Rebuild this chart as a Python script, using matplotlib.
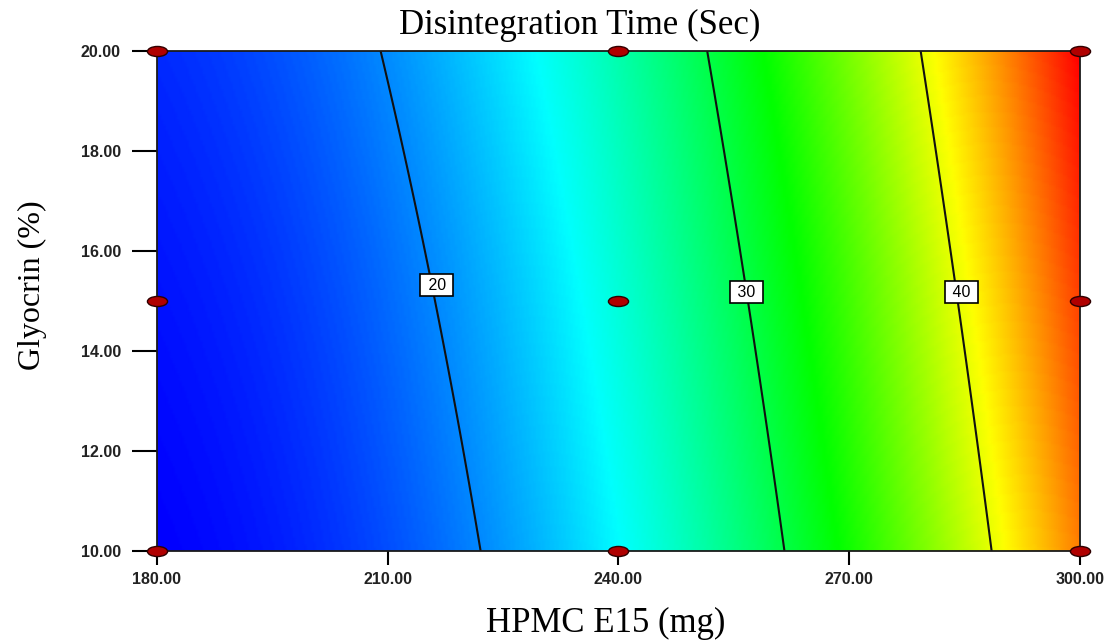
import numpy as np
import matplotlib
matplotlib.use("Agg")
import matplotlib.pyplot as plt
from matplotlib.colors import LinearSegmentedColormap
from matplotlib.path import Path
from matplotlib.transforms import Affine2D

# ---------------------- DATA ----------------------
# factor ranges (actual units)
hpmc_range = [180.0, 300.0]      # HPMC E15 (mg)
glycerin_range = [10.0, 20.0]    # Glycerin (%)

# fitted response model in coded units, read off the contour positions
# DT = b0 + bA*A + bB*B + bAB*A*B + bA2*A^2 + bB2*B^2
coef_names = ["b0", "bA", "bB", "bAB", "bA2", "bB2"]
coef_values = [25.15, 15.5, 1.4, 0.7, 6.4, 0.1]

contour_levels = [20, 30, 40]
label_pos_x = [216.4, 256.6, 284.6]
label_pos_y = [15.32, 15.18, 15.18]

# design points (face centred, 3 levels per factor)
design_x = [180, 180, 180, 240, 240, 240, 300, 300, 300]
design_y = [10, 15, 20, 10, 15, 20, 10, 15, 20]

xticks = [180, 210, 240, 270, 300]
yticks = [10, 12, 14, 16, 18, 20]
# ----------------------------------------------------

coef = dict(zip(coef_names, coef_values))

xs = np.linspace(hpmc_range[0], hpmc_range[1], 400)
ys = np.linspace(glycerin_range[0], glycerin_range[1], 200)
X, Y = np.meshgrid(xs, ys)
A = (X - 240.0) / 60.0
B = (Y - 15.0) / 5.0
Z = (coef["b0"] + coef["bA"] * A + coef["bB"] * B + coef["bAB"] * A * B
     + coef["bA2"] * A ** 2 + coef["bB2"] * B ** 2)

cmap = LinearSegmentedColormap.from_list(
    "dx", ["#0000ff", "#00ffff", "#00ff00", "#ffff00", "#ff0000"])

fig = plt.figure(figsize=(11.11, 6.4), dpi=100)
ax = fig.add_axes([0.1413, 0.139, 0.9721 - 0.1413, 0.9203 - 0.139])

ax.pcolormesh(X, Y, Z, cmap=cmap, shading="gouraud",
              vmin=Z.min(), vmax=Z.max())
ax.contour(X, Y, Z, levels=contour_levels, colors="#111111", linewidths=1.5)

# contour labels in white boxes, sitting on the lines
for lvl, lx, ly in zip(contour_levels, label_pos_x, label_pos_y):
    ax.text(lx, ly, f" {lvl} ", family="Liberation Sans", fontsize=11.5,
            ha="center", va="center", zorder=4,
            bbox=dict(boxstyle="square,pad=0.2", fc="white", ec="black", lw=1.2))

# elliptical design point marker
ell = Path.unit_circle().transformed(Affine2D().scale(1.0, 0.5))
ax.plot(design_x, design_y, linestyle="none", marker=ell, markersize=14.5,
        markerfacecolor="#b00000", markeredgecolor="#300000", markeredgewidth=1.0,
        clip_on=False, zorder=5)

ax.set_xlim(hpmc_range)
ax.set_ylim(glycerin_range)
ax.set_xticks(xticks)
ax.set_yticks(yticks)
ax.set_xticklabels([f"{v:.2f}" for v in xticks])
ax.set_yticklabels([f"{v:.2f}" for v in yticks])

for lab in ax.get_xticklabels() + ax.get_yticklabels():
    lab.set_family("Liberation Sans")
    lab.set_weight("bold")
    lab.set_size(11.5)
    lab.set_color("#222222")

ax.tick_params(axis="x", direction="out", length=10, width=1.5, pad=5)
ax.tick_params(axis="y", direction="out", length=18, width=1.5, pad=8)
for sp in ax.spines.values():
    sp.set_linewidth(1.3)
    sp.set_color("#1a1a1a")

serif = "Liberation Serif"
fig.text(0.522, 1 - 34 / 640, "Disintegration Time (Sec)", family=serif,
         fontsize=25, ha="center", va="baseline")
fig.text(0.5455, 1 - 632 / 640, "HPMC E15 (mg)", family=serif, fontsize=25,
         ha="center", va="baseline")
fig.text(0.0288, 0.555, "Glyocrin (%)", family=serif, fontsize=23,
         ha="center", va="center", rotation=90)

fig.savefig("out.png", dpi=100)
